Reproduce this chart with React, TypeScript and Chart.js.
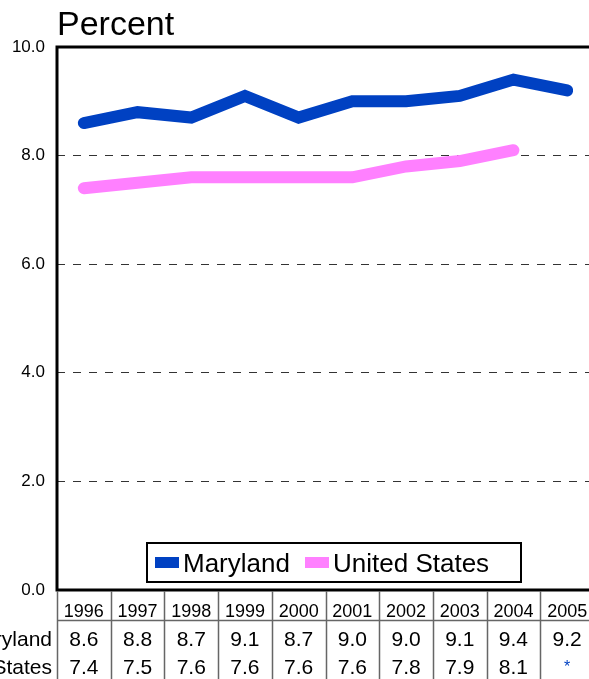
import React, { useEffect, useRef } from "react";
import { Chart, registerables } from "chart.js";

Chart.register(...registerables);

const years = ["1996", "1997", "1998", "1999", "2000", "2001", "2002", "2003", "2004", "2005"];
const maryland = [8.6, 8.8, 8.7, 9.1, 8.7, 9.0, 9.0, 9.1, 9.4, 9.2];
const unitedStates: (number | null)[] = [7.4, 7.5, 7.6, 7.6, 7.6, 7.6, 7.8, 7.9, 8.1, null];
const seriesNames = ["Maryland", "United States"];
const seriesColors = ["#0041C2", "#FF80FF"];
const yTicks = [0, 2, 4, 6, 8, 10];

const FONT = "'Liberation Sans', Arial, sans-serif";

const decorPlugin = {
  id: "decor",
  afterDraw(chart: any) {
    const ctx = chart.ctx as CanvasRenderingContext2D;
    const area = chart.chartArea;
    const x = chart.scales.x;
    ctx.save();

    // Title
    ctx.fillStyle = "#000";
    ctx.font = `34px ${FONT}`;
    ctx.textAlign = "left";
    ctx.textBaseline = "alphabetic";
    ctx.fillText("Percent", 57, 35);

    // Frame
    ctx.strokeStyle = "#000";
    ctx.lineWidth = 3;
    ctx.beginPath();
    ctx.moveTo(area.left, area.bottom);
    ctx.lineTo(area.left, area.top);
    ctx.lineTo(area.right + 20, area.top);
    ctx.moveTo(area.left - 1.5, area.bottom);
    ctx.lineTo(area.right + 20, area.bottom);
    ctx.stroke();

    // Table
    const colW = (area.right - area.left) / years.length;
    ctx.strokeStyle = "#666";
    ctx.lineWidth = 1.5;
    ctx.beginPath();
    for (let i = 0; i <= years.length; i++) {
      const lx = Math.round(area.left + i * colW) + 0.5;
      ctx.moveTo(lx, area.bottom + 1);
      ctx.lineTo(lx, chart.height);
    }
    ctx.moveTo(area.left, 620.5);
    ctx.lineTo(area.right + 20, 620.5);
    ctx.stroke();

    ctx.fillStyle = "#000";
    ctx.textAlign = "center";
    ctx.font = `18px ${FONT}`;
    years.forEach((yr, i) => {
      ctx.fillText(yr, x.getPixelForValue(i), 617);
    });
    const rows = [maryland, unitedStates];
    const baselines = [646, 674];
    ctx.font = `21px ${FONT}`;
    rows.forEach((row, r) => {
      ctx.textAlign = "right";
      ctx.fillStyle = "#000";
      ctx.fillText(seriesNames[r], 52, baselines[r]);
      ctx.textAlign = "center";
      row.forEach((v, i) => {
        const cx = x.getPixelForValue(i);
        if (v === null) {
          ctx.fillStyle = "#0041C2";
          ctx.font = `16px ${FONT}`;
          ctx.fillText("*", cx, baselines[r] - 2);
          ctx.font = `21px ${FONT}`;
          ctx.fillStyle = "#000";
        } else {
          ctx.fillText(v.toFixed(1), cx, baselines[r]);
        }
      });
    });

    // Legend
    const lx0 = 147, ly0 = 543, lx1 = 521, ly1 = 582;
    ctx.fillStyle = "#fff";
    ctx.fillRect(lx0, ly0, lx1 - lx0, ly1 - ly0);
    ctx.strokeStyle = "#000";
    ctx.lineWidth = 2;
    ctx.strokeRect(lx0, ly0, lx1 - lx0, ly1 - ly0);
    const items = [
      { sx: 155, tx: 183 },
      { sx: 305, tx: 333 },
    ];
    ctx.font = `26px ${FONT}`;
    ctx.textAlign = "left";
    items.forEach((it, i) => {
      ctx.fillStyle = seriesColors[i];
      ctx.fillRect(it.sx, 557, 24, 11);
      ctx.fillStyle = "#000";
      ctx.fillText(seriesNames[i], it.tx, 572);
    });

    ctx.restore();
  },
};

export default function App() {
  const ref = useRef<HTMLCanvasElement | null>(null);
  useEffect(() => {
    if (!ref.current) return;
    const chart = new Chart(ref.current, {
      type: "line",
      data: {
        labels: years,
        datasets: [
          {
            label: seriesNames[0],
            data: maryland,
            borderColor: seriesColors[0],
            backgroundColor: seriesColors[0],
            borderWidth: 12,
            pointRadius: 0,
            tension: 0,
            borderCapStyle: "round",
            borderJoinStyle: "miter",
          },
          {
            label: seriesNames[1],
            data: unitedStates,
            borderColor: seriesColors[1],
            backgroundColor: seriesColors[1],
            borderWidth: 12,
            pointRadius: 0,
            tension: 0,
            borderCapStyle: "round",
            borderJoinStyle: "miter",
            spanGaps: false,
          },
        ],
      },
      options: {
        responsive: false,
        animation: false,
        events: [],
        layout: { padding: { left: 0, top: 47, right: 26, bottom: 89 } },
        plugins: { legend: { display: false }, title: { display: false }, tooltip: { enabled: false } },
        scales: {
          x: {
            type: "category",
            offset: true,
            display: false,
          },
          y: {
            min: 0,
            max: 10,
            afterFit(scale: any) {
              scale.width = 57;
            },
            afterBuildTicks(scale: any) {
              scale.ticks = yTicks.map((v) => ({ value: v }));
            },
            border: { display: false, dash: [8, 8] },
            grid: {
              drawTicks: false,
              color: (c: any) => (c.tick && (c.tick.value === 0 || c.tick.value === 10) ? "rgba(0,0,0,0)" : "#333"),
              lineWidth: 1,
            },
            ticks: {
              padding: 12,
              color: "#000",
              font: { family: FONT, size: 17 },
              callback: (v: any) => Number(v).toFixed(1),
            },
          },
        },
      },
      plugins: [decorPlugin],
    } as any);
    return () => chart.destroy();
  }, []);
  return (
    <div style={{ position: "fixed", left: 0, top: 0, width: 589, height: 679, overflow: "hidden", background: "#fff" }}>
      <canvas ref={ref} width={620} height={679} style={{ width: 620, height: 679, display: "block" }} />
    </div>
  );
}
